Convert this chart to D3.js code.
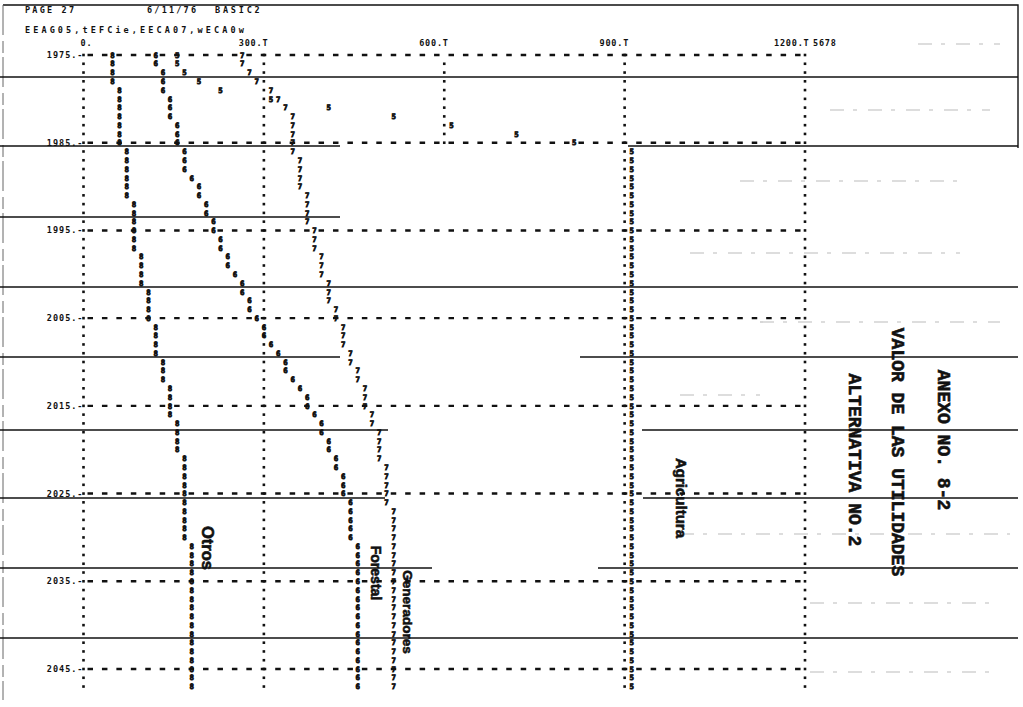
<!DOCTYPE html>
<html>
<head>
<meta charset="utf-8">
<script src="https://cdn.jsdelivr.net/npm/d3@7/dist/d3.min.js"></script>
<style>
  html, body { margin: 0; padding: 0; background: #fff; }
  svg { display: block; }
</style>
</head>
<body>
<svg id="chart" width="1023" height="707"></svg>
<script>
// Printer plot: value of benefits per sector, one printed row per year.
const years = [
  1975,1976,1977,1978,1979,1980,1981,1982,1983,1984,
  1985,1986,1987,1988,1989,1990,1991,1992,1993,1994,
  1995,1996,1997,1998,1999,2000,2001,2002,2003,2004,
  2005,2006,2007,2008,2009,2010,2011,2012,2013,2014,
  2015,2016,2017,2018,2019,2020,2021,2022,2023,2024,
  2025,2026,2027,2028,2029,2030,2031,2032,2033,2034,
  2035,2036,2037,2038,2039,2040,2041,2042,2043,2044,
  2045,2046,2047
];

// Series printed with symbol "8"
const otros = [
  48,48,48,48,60,60,60,60,60,60,
  60,72,72,72,72,72,72,84,84,84,
  84,84,84,96,96,96,96,108,108,108,
  108,120,120,120,120,132,132,132,144,144,
  144,144,156,156,156,156,168,168,168,168,
  168,168,168,168,168,168,180,180,180,180,
  180,180,180,180,180,180,180,180,180,180,
  180,180,180
];

// Series printed with symbol "6"
const forestal = [
  120,120,132,132,132,144,144,144,156,156,
  156,168,168,168,180,192,192,204,204,216,
  216,228,228,240,240,252,264,264,276,276,
  288,300,300,312,324,336,336,348,360,372,
  372,384,396,396,408,408,420,420,432,432,
  432,444,444,444,444,444,456,456,456,456,
  456,456,456,456,456,456,456,456,456,456,
  456,456,456
];

// Series printed with symbol "7"
const generadores = [
  264,264,276,288,312,324,336,348,348,348,
  348,348,360,360,360,360,372,372,372,372,
  384,384,384,396,396,396,408,408,408,420,
  420,432,432,432,444,444,456,456,468,468,
  468,480,480,492,492,492,492,504,504,504,
  504,504,516,516,516,516,516,516,516,516,
  516,516,516,516,516,516,516,516,516,516,
  516,516,516
];

// Series printed with symbol "5"
const agricultura = [
  156,156,168,192,228,312,408,516,612,720,
  816,912,912,912,912,912,912,912,912,912,
  912,912,912,912,912,912,912,912,912,912,
  912,912,912,912,912,912,912,912,912,912,
  912,912,912,912,912,912,912,912,912,912,
  912,912,912,912,912,912,912,912,912,912,
  912,912,912,912,912,912,912,912,912,912,
  912,912,912
];

const seriesDefs = [
  { name: "Otros", symbol: "8", values: otros },
  { name: "Forestal", symbol: "6", values: forestal },
  { name: "Generadores", symbol: "7", values: generadores },
  { name: "Agricultura", symbol: "5", values: agricultura }
];

// Axis scale ticks across the top of the listing
const xTicks = [0, 300, 600, 900, 1200];
const xTickLabels = ["0.", "300.T", "600.T", "900.T", "1200.T"];
const symbolKey = "5678";

// Year ticks printed at the left margin
const yTicks = [1975, 1985, 1995, 2005, 2015, 2025, 2035, 2045];
const yTickLabels = ["1975.-", "1985.-", "1995.-", "2005.-", "2015.-", "2025.-", "2035.-", "2045.-"];

const headerLeft = "PAGE 27";
const headerDate = "6/11/76";
const headerProg = "BASIC2";
const headerVars = "EEAG05,tEFCie,EECA07,wECA0w";

const titleLines = ["ANEXO NO. 8-2", "VALOR DE LAS UTILIDADES", "ALTERNATIVA NO.2"];

// ---------------------------------------------------------------------------
const svg = d3.select("#chart");
const mono = "'DejaVu Sans Mono', 'Liberation Mono', monospace";
const typewriter = "'Liberation Mono', 'DejaVu Sans Mono', monospace";
const sans = "'Liberation Sans', Arial, sans-serif";
const ink = "#111";

const x = d3.scaleLinear().domain([0, 1200]).range([83.5, 805]);
const y = d3.scaleLinear().domain([1975, 2045]).range([55, 669]);

svg.append("rect").attr("width", 1023).attr("height", 707).attr("fill", "#fff");

// Faint show-through from the facing sheet
const ghost = svg.append("g").attr("stroke", "#bbb").attr("stroke-width", 1.2)
  .attr("stroke-dasharray", "14,9,4,11");
[[918, 1000, 44], [830, 990, 110], [740, 960, 181], [690, 960, 253],
 [760, 1000, 322], [680, 760, 395], [680, 1010, 534], [810, 1000, 603], [810, 1000, 672]]
  .forEach(g => ghost.append("line").attr("x1", g[0]).attr("x2", g[1])
    .attr("y1", g[2]).attr("y2", g[2]));

// Page edges of the continuous-form paper
const page = svg.append("g").attr("stroke", ink).attr("fill", "none");
page.append("path").attr("d", "M3,5 L1018,5 L1018,148").attr("stroke-width", 1.4);
page.append("line").attr("x1", 3).attr("x2", 3).attr("y1", 5).attr("y2", 700)
  .attr("stroke", "#666").attr("stroke-width", 1).attr("stroke-dasharray", "30,6,12,4");

// Ruled bands of the listing paper
const bands = [
  { y: 77,  segs: [[0, 1018]] },
  { y: 146, segs: [[0, 340], [628, 1018]] },
  { y: 217, segs: [[0, 340]] },
  { y: 287, segs: [[0, 1018]] },
  { y: 357, segs: [[0, 340], [580, 1018]] },
  { y: 430, segs: [[0, 388], [642, 1018]] },
  { y: 498, segs: [[0, 385], [643, 1018]] },
  { y: 568, segs: [[0, 432], [598, 1018]] },
  { y: 638, segs: [[0, 1018]] }
];
bands.forEach(b => b.segs.forEach(s => {
  page.append("line")
    .attr("x1", s[0]).attr("x2", s[1])
    .attr("y1", b.y).attr("y2", b.y)
    .attr("stroke-width", 1.6);
}));

// Horizontal dashed grid rows (every tenth year)
const grid = svg.append("g");
yTicks.forEach(t => {
  grid.append("line")
    .attr("x1", x(0) + 4).attr("x2", x(1200))
    .attr("y1", y(t)).attr("y2", y(t))
    .attr("stroke", ink).attr("stroke-width", 2.4)
    .attr("stroke-dasharray", "5.5,8.94");
});

// Vertical dotted grid columns: one dot per printed row
const dotCols = [0, 300, 900, 1200];
dotCols.forEach(v => {
  grid.selectAll(null).data(years).enter().append("rect")
    .attr("x", x(v) - 1.3).attr("y", d => y(d) - 1.3)
    .attr("width", 2.6).attr("height", 2.6).attr("fill", ink);
});
// the 600 column only printed in the first decade
grid.selectAll(null).data(years.filter(d => d > 1975 && d <= 1985)).enter().append("rect")
  .attr("x", x(600) - 1.3).attr("y", d => y(d) - 1.3)
  .attr("width", 2.6).attr("height", 2.6).attr("fill", ink);

// Header lines
const hdr = svg.append("g").attr("font-family", mono).attr("font-weight", "bold")
  .attr("font-size", 8.5).attr("letter-spacing", 2.2).attr("fill", ink);
hdr.append("text").attr("x", 25).attr("y", 13).text(headerLeft);
hdr.append("text").attr("x", 147).attr("y", 13).text(headerDate);
hdr.append("text").attr("x", 215).attr("y", 13).attr("letter-spacing", 2.8).text(headerProg);
hdr.append("text").attr("x", 25).attr("y", 33).attr("letter-spacing", 3.1).text(headerVars);

// Top axis labels
const ax = svg.append("g").attr("font-family", mono).attr("font-weight", "bold")
  .attr("font-size", 8.5).attr("letter-spacing", 0.8).attr("fill", ink);
xTicks.forEach((v, i) => {
  if (i === 0) {
    ax.append("text").attr("x", x(v) - 3).attr("y", 46).text(xTickLabels[i]);
  } else {
    ax.append("text").attr("x", x(v) + 4.5).attr("y", 46)
      .attr("text-anchor", "end").text(xTickLabels[i]);
  }
});
ax.append("text").attr("x", x(1200) + 8).attr("y", 46).text(symbolKey);

// Left year labels
yTicks.forEach((t, i) => {
  ax.append("text").attr("x", x(0)).attr("y", y(t) + 3)
    .attr("text-anchor", "end").attr("letter-spacing", 1).text(yTickLabels[i]);
});

// Plotted symbols
const marks = svg.append("g").attr("font-family", mono).attr("font-weight", "bold")
  .attr("font-size", 7.4).attr("fill", ink).attr("stroke", ink).attr("stroke-width", 0.8)
  .attr("text-anchor", "middle");
seriesDefs.forEach(s => {
  marks.selectAll(null).data(years).enter().append("text")
    .attr("x", (d, i) => x(s.values[i]))
    .attr("y", d => y(d) + 2.7)
    .text(s.symbol);
});

// Hand-placed series names along the curves
const names = [
  { text: "Otros", cx: 208, cy: 548, size: 16.5 },
  { text: "Forestal", cx: 376, cy: 573, size: 14 },
  { text: "Generadores", cx: 408, cy: 612, size: 13.5 },
  { text: "Agricultura", cx: 681, cy: 498, size: 15 }
];
const nameG = svg.append("g").attr("font-family", sans).attr("font-weight", "bold")
  .attr("fill", ink).attr("stroke", ink).attr("stroke-width", 0.6);
names.forEach(n => {
  nameG.append("text")
    .attr("transform", `translate(${n.cx},${n.cy}) rotate(90)`)
    .attr("text-anchor", "middle").attr("dy", "0.35em")
    .attr("font-size", n.size).text(n.text);
});

// Typed title block
const titles = [
  { text: titleLines[0], cx: 944, cy: 440 },
  { text: titleLines[1], cx: 898, cy: 452 },
  { text: titleLines[2], cx: 855, cy: 460 }
];
const titleG = svg.append("g").attr("font-family", typewriter).attr("font-weight", "bold")
  .attr("font-size", 18).attr("fill", ink).attr("stroke", ink).attr("stroke-width", 0.6);
titles.forEach(t => {
  titleG.append("text")
    .attr("transform", `translate(${t.cx},${t.cy}) rotate(90)`)
    .attr("text-anchor", "middle").attr("dy", "0.35em")
    .text(t.text);
});
</script>
</body>
</html>
